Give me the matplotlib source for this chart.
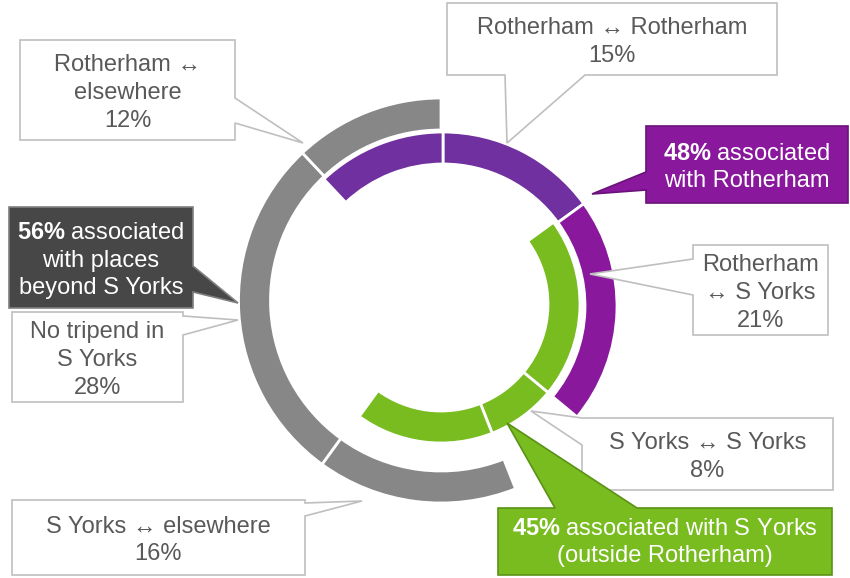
import matplotlib
matplotlib.use('Agg')
import matplotlib.pyplot as plt
from matplotlib.patches import Polygon

plt.rcParams['font.family'] = ['Liberation Sans', 'DejaVu Sans']
plt.rcParams['mathtext.fontset'] = 'custom'
plt.rcParams['mathtext.rm'] = 'Liberation Sans'
plt.rcParams['mathtext.bf'] = 'Liberation Sans:bold'

W, H = 850, 578

# trip types, clockwise from 12 o'clock
trip_labels = ['Rotherham ↔ Rotherham', 'Rotherham\n↔ S Yorks', 'S Yorks ↔ S Yorks',
               'S Yorks ↔ elsewhere', 'No tripend in\nS Yorks', 'Rotherham ↔\nelsewhere']
shares = [15, 21, 8, 16, 28, 12]

# which ring each trip type shows up in
in_syorks = [False, True, True, True, False, False]
in_rotherham = [True, True, False, False, False, True]
in_beyond = [False, False, False, True, True, True]

GREEN = '#78BC20'
PURPLE_DARK = '#7030A0'
PURPLE = '#89189D'
GREY = '#878787'
TEXT = '#595959'

# ring: mask, colours, centre (px), outer radius, width
rings = [
    (in_syorks, [GREEN] * 6, (441, 304), 139, 32),
    (in_rotherham, [PURPLE_DARK, PURPLE, PURPLE_DARK, PURPLE_DARK, PURPLE_DARK, PURPLE_DARK],
     (443, 306), 174, 32),
    (in_beyond, [GREY] * 6, (441, 300.5), 202.5, 32),
]

# label boxes for the slices: box (x0, y0, x1, y1), tail side, tail base, tip
slice_boxes = [
    ((447, 3, 777, 75), 'bottom', (505, 585), (507, 143)),
    ((693, 245, 828, 335), 'left', (259, 295), (590, 274)),
    ((582, 418, 833, 490), 'left', (418, 445), (531, 411)),
    ((12, 500, 305, 575), 'right', (503, 516), (362, 501)),
    ((12, 312, 183, 402), 'right', (316, 335), (238, 320)),
    ((20, 40, 235, 140), 'right', (98, 123), (303, 143)),
]


def callout(ax, box, side, base, tip, face, edge, lw=1.2):
    x0, y0, x1, y1 = box
    a, b = base
    tl, tr, br, bl = (x0, y0), (x1, y0), (x1, y1), (x0, y1)
    if side == 'top':
        pts = [tl, (a, y0), tip, (b, y0), tr, br, bl]
    elif side == 'right':
        pts = [tl, tr, (x1, a), tip, (x1, b), br, bl]
    elif side == 'bottom':
        pts = [tl, tr, br, (b, y1), tip, (a, y1), bl]
    else:
        pts = [tl, tr, br, bl, (x0, b), tip, (x0, a)]
    pts = [(x, H - y) for x, y in pts]
    ax.add_patch(Polygon(pts, closed=True, facecolor=face, edgecolor=edge,
                         linewidth=lw, joinstyle='miter', zorder=3))


def box_text(ax, box, s, color, dy=0):
    # dy in pixels, positive = further down
    x0, y0, x1, y1 = box
    ax.text((x0 + x1) / 2, H - (y0 + y1) / 2 - dy - 3, s, ha='center', va='center',
            fontsize=17, color=color, linespacing=1.33, zorder=4)


fig = plt.figure(figsize=(W / 100, H / 100), dpi=100)
ax = fig.add_axes([0, 0, 1, 1])

for mask, colors, (cx, cy), r, w in rings:
    wedges, _ = ax.pie(shares, colors=colors, radius=r, center=(cx, H - cy),
                       startangle=90, counterclock=False,
                       wedgeprops=dict(width=w, edgecolor='white', linewidth=2))
    for wedge, show in zip(wedges, mask):
        wedge.set_visible(show)

for (box, side, base, tip), lab, s in zip(slice_boxes, trip_labels, shares):
    callout(ax, box, side, base, tip, 'white', '#BFBFBF')
    box_text(ax, box, f'{lab}\n{s}%', TEXT)

# group totals
rotherham_total = sum(s for s, m in zip(shares, in_rotherham) if m)
syorks_total = sum(s for s, m in zip(shares, in_syorks) if m)
beyond_total = sum(s for s, m in zip(shares, in_beyond) if m)

purple_box = (646, 126, 848, 203)
callout(ax, purple_box, 'left', (172, 190), (592, 194), PURPLE, '#6A1279')
box_text(ax, purple_box, r'$\mathbf{%d\%%}$ associated' % rotherham_total + '\nwith Rotherham', 'white')

green_box = (498, 508, 832, 575)
callout(ax, green_box, 'top', (555, 637), (507, 423), GREEN, '#5B9216')
box_text(ax, green_box, r'$\mathbf{%d\%%}$ associated with S Yorks' % syorks_total + '\n(outside Rotherham)', 'white', dy=-2)

dark_box = (9, 207, 193, 308)
callout(ax, dark_box, 'right', (266, 292), (238, 303), '#474747', '#7F7F7F')
box_text(ax, dark_box, r'$\mathbf{%d\%%}$ associated' % beyond_total + '\nwith places\nbeyond S Yorks', 'white')

ax.set_xlim(0, W)
ax.set_ylim(0, H)
ax.set_aspect('equal')
ax.axis('off')

fig.savefig('out.png', dpi=100, facecolor='white')
